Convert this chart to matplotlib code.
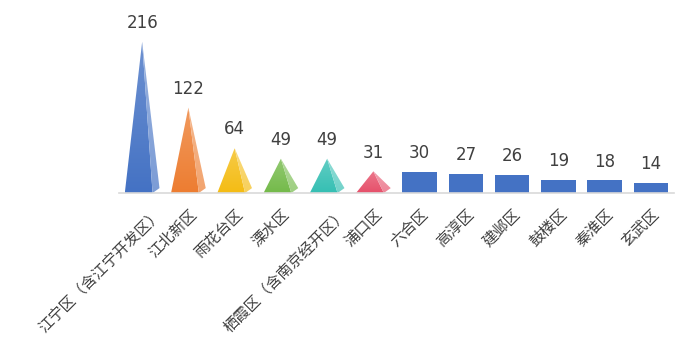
import numpy as np
import matplotlib.pyplot as plt
from matplotlib.patches import Polygon
from matplotlib.colors import to_rgb
from matplotlib.transforms import ScaledTranslation

plt.rcParams['font.family'] = ['Noto Sans CJK SC', 'DejaVu Sans']

districts = ["江宁区（含江宁开发区）", "江北新区", "雨花台区", "溧水区", "栖霞区（含南京经开区）",
             "浦口区", "六合区", "高淳区", "建邺区", "鼓楼区", "秦淮区", "玄武区"]
counts = [216, 122, 64, 49, 49, 31, 30, 27, 26, 19, 18, 14]
pyramid_colors = ["#4472C4", "#ED7D31", "#F4BC14", "#74BA4A", "#35BFB3", "#E6506A"]
bar_color = "#4472C4"


def lighten(c, f):
    r, g, b = to_rgb(c)
    return (r + (1 - r) * f, g + (1 - g) * f, b + (1 - b) * f)


def fill_gradient(ax, verts, c_bottom, c_top):
    poly = Polygon(verts, closed=True, facecolor='none', edgecolor='none')
    ax.add_patch(poly)
    xs = [v[0] for v in verts]
    ys = [v[1] for v in verts]
    grad = np.linspace(0, 1, 64)[:, None]
    cb = np.array(c_bottom)
    ct = np.array(c_top)
    img = cb[None, None, :] * (1 - grad[:, :, None]) + ct[None, None, :] * grad[:, :, None]
    im = ax.imshow(img, extent=[min(xs), max(xs), min(ys), max(ys)], origin='lower',
                   aspect='auto', interpolation='bilinear', zorder=2)
    im.set_clip_path(poly)


fig = plt.figure(figsize=(6.92, 3.52), dpi=100)
ax = fig.add_axes([0.172, 0.4517, 0.802, 0.4773])

x = np.arange(len(districts))
w = 0.75

for i, (c, v) in enumerate(zip(x, counts)):
    if i < len(pyramid_colors):
        col = pyramid_colors[i]
        front = [(c - w / 2, 0), (c + 0.3 * w, 0), (c, v)]
        side = [(c, v), (c + 0.3 * w, 0), (c + w / 2, 7)]
        fill_gradient(ax, front, to_rgb(col), lighten(col, 0.22))
        fill_gradient(ax, side, lighten(col, 0.3), lighten(col, 0.45))
    else:
        ax.bar(c, v, width=w, color=bar_color, zorder=2)
    ax.annotate(str(v), (c, v), xytext=(0, 7), textcoords='offset points',
                ha='center', va='bottom', fontsize=12, color='#404040',
                family=['DejaVu Sans'])

ax.set_xlim(-0.5, len(districts) - 0.5)
ax.set_ylim(0, 240)
for s in ['top', 'right', 'left']:
    ax.spines[s].set_visible(False)
ax.spines['bottom'].set_color('#D9D9D9')
ax.spines['bottom'].set_linewidth(1.2)
ax.set_yticks([])
ax.set_xticks(x)
ax.set_xticklabels(districts, rotation=45, ha='right', va='top',
                   rotation_mode='anchor', fontsize=11, color='#404040')
ax.tick_params(axis='x', length=0, pad=9)

# long labels with full-width parentheses sit further right in the original
for lbl in ax.get_xticklabels():
    if '（' in lbl.get_text():
        lbl.set_transform(lbl.get_transform() + ScaledTranslation(0.12, 0, fig.dpi_scale_trans))

fig.savefig('out.png', dpi=100)
